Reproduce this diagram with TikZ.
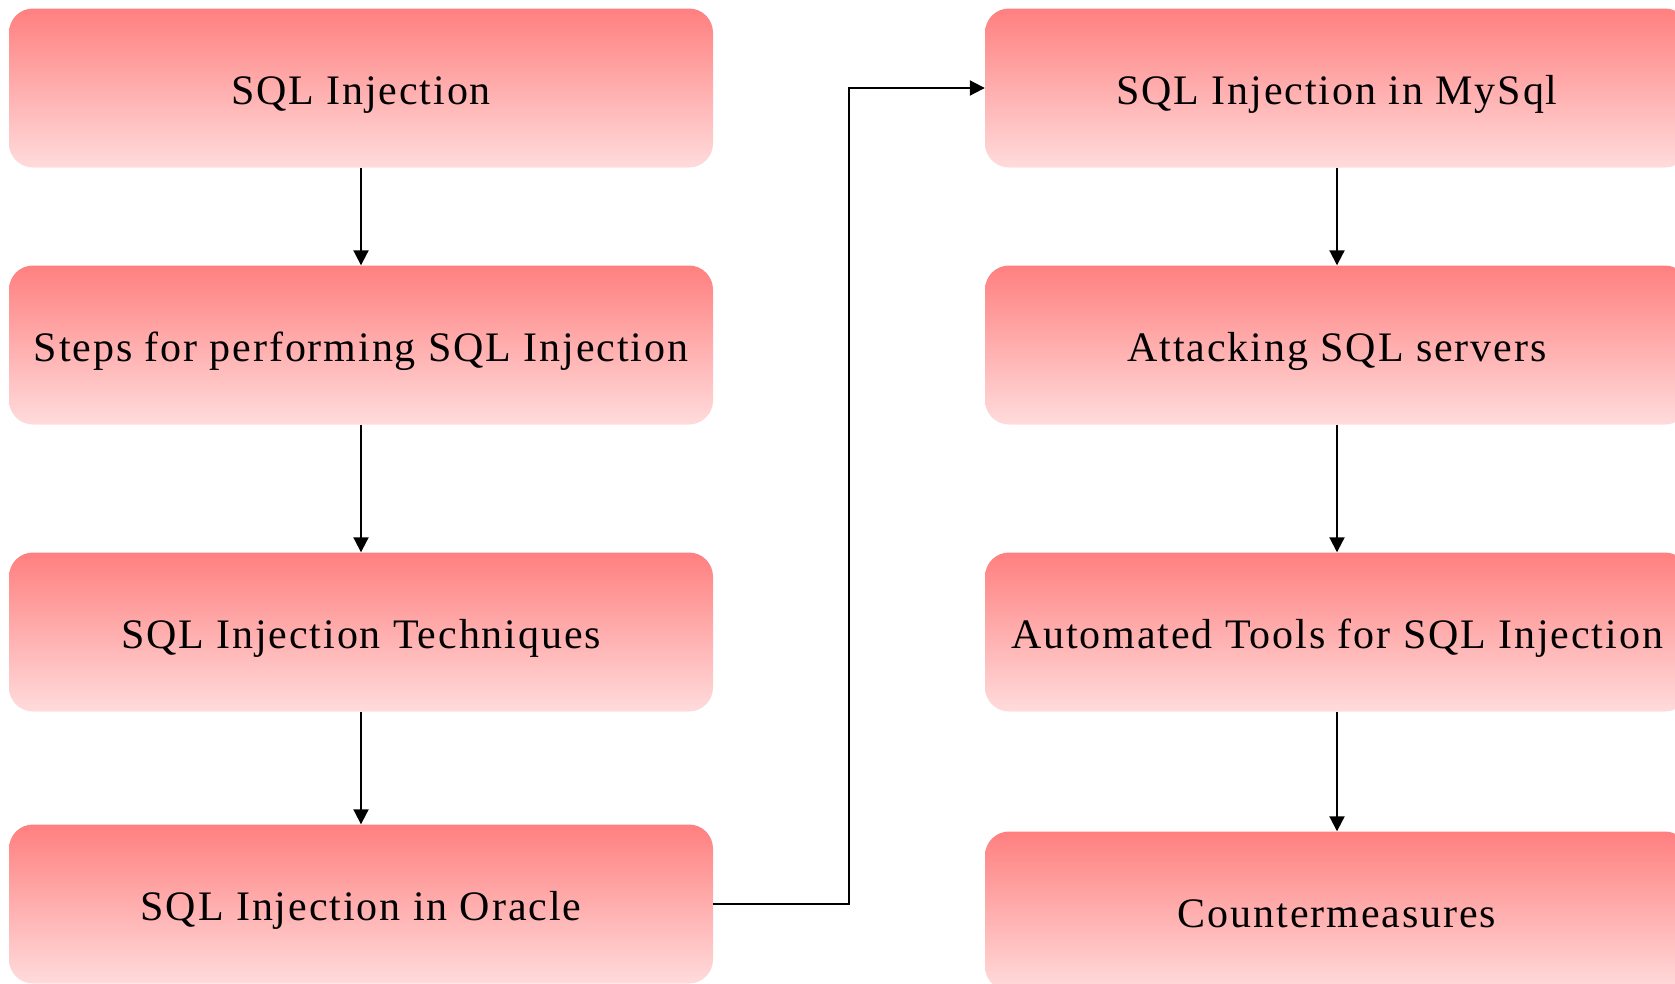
\documentclass[tikz,border=0pt]{standalone}
\usepackage{fontspec}
\setmainfont{Liberation Serif}[LetterSpace=4.5]
\usetikzlibrary{arrows.meta}
\begin{document}
\begin{tikzpicture}[x=1pt,y=-1pt,
  topic/.style={shade, top color=red!50, bottom color=red!14,
    rounded corners=24pt, minimum width=704pt, minimum height=159pt,
    inner sep=0pt, text height=32pt, text depth=0pt, text=black,
    font=\fontsize{42}{50}\selectfont},
  link/.style={line width=2pt, -{Triangle[length=15pt,width=15pt]}}]
\useasboundingbox (0,0) rectangle (1675,983);
\clip (0,0) rectangle (1675,983);
% left column
\node[topic] (a1) at (361,88)  {SQL Injection};
\node[topic] (a2) at (361,345) {Steps for performing SQL Injection};
\node[topic] (a3) at (361,632) {SQL Injection Techniques};
\node[topic] (a4) at (361,904) {SQL Injection in Oracle};
% right column
\node[topic] (b1) at (1337,88)  {SQL Injection in MySql};
\node[topic] (b2) at (1337,345) {Attacking SQL servers};
\node[topic] (b3) at (1337,632) {Automated Tools for SQL Injection};
\node[topic] (b4) at (1337,911) {Countermeasures};
% connectors
\draw[link] (a1) -- (a2);
\draw[link] (a2) -- (a3);
\draw[link] (a3) -- (a4);
\draw[link] (a4.east) -- ++(136,0) |- (b1.west);
\draw[link] (b1) -- (b2);
\draw[link] (b2) -- (b3);
\draw[link] (b3) -- (b4);
\end{tikzpicture}
\end{document}
